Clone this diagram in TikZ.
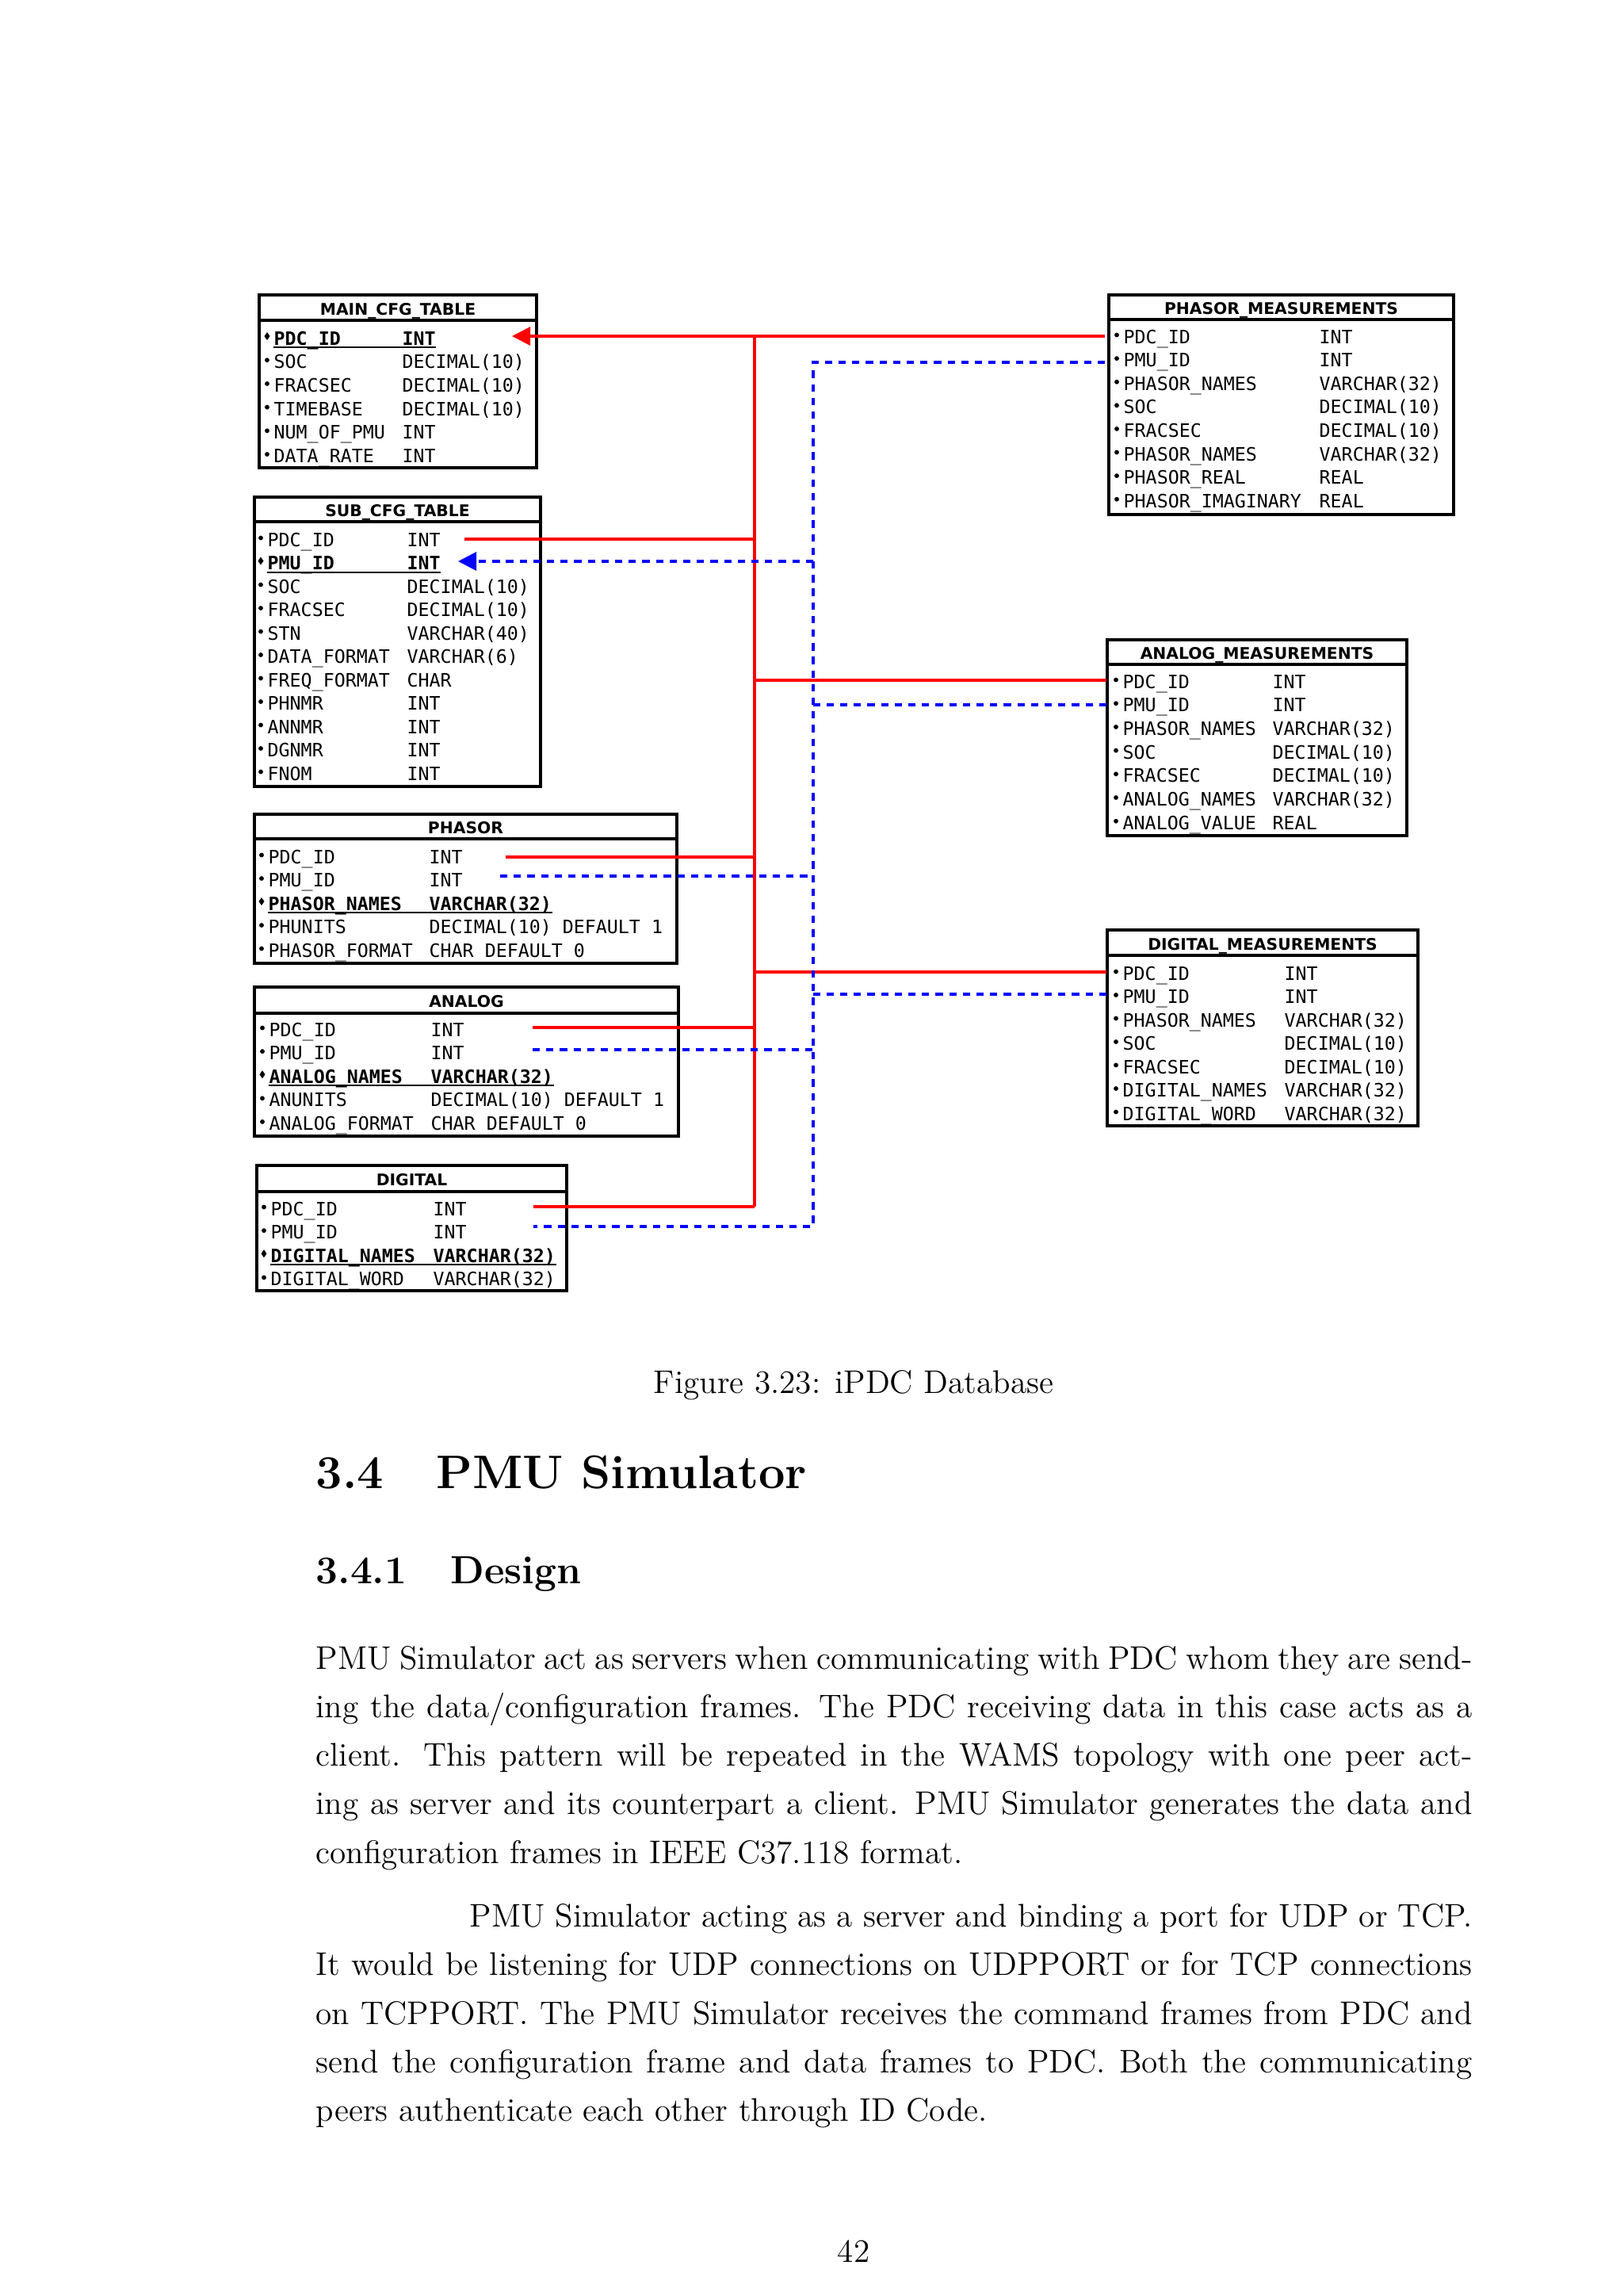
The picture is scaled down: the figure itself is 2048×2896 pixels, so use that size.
\documentclass[tikz,border=0pt]{standalone}
\usepackage{fontspec}
\newfontfamily\monof{DejaVu Sans Mono}
\newfontfamily\hdrf{DejaVu Sans}
\usetikzlibrary{arrows.meta,fit,calc}

\tikzset{
  tbl/.style={draw=black, line width=1.16pt, inner sep=0pt},
  divider/.style={line width=1.16pt},
  hdr/.style={anchor=base, inner sep=0pt, font=\hdrf\bfseries\fontsize{5.9}{7}\selectfont},
  fld/.style={anchor=base west, inner sep=0pt, font=\monof\fontsize{6.77}{8}\selectfont},
  keyfld/.style={anchor=base west, inner sep=0pt, font=\monof\bfseries\fontsize{6.77}{8}\selectfont},
  uline/.style={line width=0.58pt},
  rline/.style={draw=red, line width=0.9pt},
  bline/.style={draw=blue, line width=0.9pt, dash pattern=on 2.7pt off 2.3pt},
  arrowtip/.style={-{Triangle[length=6.7pt,width=6.7pt]}},
  bodytext/.style={anchor=base west, inner sep=0pt, font=\fontsize{12}{14.5}\selectfont},
  centertext/.style={anchor=base, inner sep=0pt, font=\fontsize{12}{14.5}\selectfont},
}

\newcommand\dbtable[7]{% id title L R T H B
  \node[tbl, fit={(#3,#5) (#4,#7)}] (#1) {};
  \draw[divider] (#3,#6) -- (#4,#6);
  \node[hdr] (#1-title) at ({(#3+#4)/2},{(#5+#6)/2+9}) {#2};
}

\newcommand\dbrows[6]{% id nx tx y0 dy list
  \foreach \n/\t/\k [count=\i] in {#6} {%
    \pgfmathsetmacro\yy{#4+(\i-1)*#5}%
    \ifnum\k=1
      \fill ({#2-11.5},{\yy-11}) -- ({#2-8},{\yy-16}) -- ({#2-4.5},{\yy-11}) -- ({#2-8},{\yy-6}) -- cycle;
      \node[keyfld] (#1-n\i) at (#2,\yy) {\n};
      \node[keyfld] (#1-t\i) at (#3,\yy) {\t};
      \draw[uline] ([yshift=-0.9pt]#1-n\i.base west) -- ([yshift=-0.9pt]#1-t\i.base east);
    \else
      \fill ({#2-8},{\yy-10.5}) circle[radius=0.85pt];
      \node[fld] (#1-n\i) at (#2,\yy) {\n};
      \node[fld] (#1-t\i) at (#3,\yy) {\t};
    \fi
  }%
}

\begin{document}
\begin{tikzpicture}[x=0.29077pt, y=-0.29077pt]
\useasboundingbox (0,0) rectangle (2048,2896);
\fill[white] (0,0) rectangle (2048,2896);

% ---------- tables ----------
\dbtable{main}{MAIN\_CFG\_TABLE}{327}{677}{372}{404}{590}
\dbrows{main}{345}{507}{435}{29.7}{PDC\_ID/INT\ /1, SOC/DECIMAL(10)/0, FRACSEC/DECIMAL(10)/0, TIMEBASE/DECIMAL(10)/0, NUM\_OF\_PMU/INT/0, DATA\_RATE/INT/0}

\dbtable{sub}{SUB\_CFG\_TABLE}{321}{682}{627}{658}{992}
\dbrows{sub}{337}{513}{689}{29.5}{PDC\_ID/INT/0, PMU\_ID/INT/1, SOC/DECIMAL(10)/0, FRACSEC/DECIMAL(10)/0, STN/VARCHAR(40)/0, DATA\_FORMAT/VARCHAR(6)/0, FREQ\_FORMAT/CHAR/0, PHNMR/INT/0, ANNMR/INT/0, DGNMR/INT/0, FNOM/INT/0}

\dbtable{ph}{PHASOR}{321}{854}{1027}{1058}{1215}
\dbrows{ph}{338}{541}{1089}{29.5}{PDC\_ID/INT/0, PMU\_ID/INT/0, PHASOR\_NAMES/VARCHAR(32)/1, PHUNITS/DECIMAL(10) DEFAULT 1/0, PHASOR\_FORMAT/CHAR DEFAULT 0/0}

\dbtable{an}{ANALOG}{321}{856}{1245}{1278}{1433}
\dbrows{an}{339}{543}{1307}{29.6}{PDC\_ID/INT/0, PMU\_ID/INT/0, ANALOG\_NAMES/VARCHAR(32)/1, ANUNITS/DECIMAL(10) DEFAULT 1/0, ANALOG\_FORMAT/CHAR DEFAULT 0/0}

\dbtable{dg}{DIGITAL}{324}{715}{1470}{1503}{1628}
\dbrows{dg}{341}{546}{1533}{29.6}{PDC\_ID/INT/0, PMU\_ID/INT/0, DIGITAL\_NAMES/VARCHAR(32)/1, DIGITAL\_WORD/VARCHAR(32)/0}

\dbtable{pm}{PHASOR\_MEASUREMENTS}{1399}{1834}{372}{403}{649}
\dbrows{pm}{1417}{1664}{433}{29.6}{PDC\_ID/INT/0, PMU\_ID/INT/0, PHASOR\_NAMES/VARCHAR(32)/0, SOC/DECIMAL(10)/0, FRACSEC/DECIMAL(10)/0, PHASOR\_NAMES/VARCHAR(32)/0, PHASOR\_REAL/REAL/0, PHASOR\_IMAGINARY/REAL/0}

\dbtable{am}{ANALOG\_MEASUREMENTS}{1397}{1775}{807}{838}{1054}
\dbrows{am}{1416}{1605}{868}{29.7}{PDC\_ID/INT/0, PMU\_ID/INT/0, PHASOR\_NAMES/VARCHAR(32)/0, SOC/DECIMAL(10)/0, FRACSEC/DECIMAL(10)/0, ANALOG\_NAMES/VARCHAR(32)/0, ANALOG\_VALUE/REAL/0}

\dbtable{dm}{DIGITAL\_MEASUREMENTS}{1397}{1789}{1173}{1205}{1420}
\dbrows{dm}{1416}{1620}{1236}{29.5}{PDC\_ID/INT/0, PMU\_ID/INT/0, PHASOR\_NAMES/VARCHAR(32)/0, SOC/DECIMAL(10)/0, FRACSEC/DECIMAL(10)/0, DIGITAL\_NAMES/VARCHAR(32)/0, DIGITAL\_WORD/VARCHAR(32)/0}

% ---------- red PDC_ID connectors ----------
\coordinate (rt) at (952,424);
\coordinate (rb) at (952,1522);
\coordinate (pmP) at (1394,424);
\coordinate (mainP) at (646,424);
\coordinate (subP) at (586,680);
\coordinate (amP) at (1396,858);
\coordinate (phP) at (638,1081);
\coordinate (dmP) at (1396,1226);
\coordinate (anP) at (672,1296);
\coordinate (dgP) at (673,1522);
\draw[rline] (rt) -- (rb);
\draw[rline] (pmP) -- (rt);
\draw[rline,arrowtip] (rt) -- (mainP);
\draw[rline] (subP) -- (subP -| rt);
\draw[rline] (amP -| rt) -- (amP);
\draw[rline] (phP) -- (phP -| rt);
\draw[rline] (dmP -| rt) -- (dmP);
\draw[rline] (anP) -- (anP -| rt);
\draw[rline] (dgP) -- (rb);

% ---------- blue PMU_ID connectors ----------
\coordinate (bt) at (1026,457);
\coordinate (bb) at (1026,1547);
\coordinate (pmM) at (1394,457);
\coordinate (subM) at (578,708);
\coordinate (amM) at (1396,889);
\coordinate (amJ) at (1019,889);
\coordinate (phM) at (631,1105);
\coordinate (dmM) at (1396,1254);
\coordinate (anM) at (672,1324);
\coordinate (dgM) at (673,1547);
\draw[bline] (pmM) -- (bt) -- (bb) -- (dgM);
\draw[bline,arrowtip] (subM -| bt) -- (subM);
\draw[bline] (amM) -- (amJ);
\draw[bline] (phM) -- (phM -| bt);
\draw[bline] (dmM) -- (dmM -| bt);
\draw[bline] (anM) -- (anM -| bt);

% ---------- caption and text ----------
\node[centertext] (caption) at (1077,1757) {Figure 3.23: iPDC Database};

\node[anchor=base west, inner sep=0pt, font=\fontsize{17.28}{22}\selectfont\bfseries] (secnum) at (398,1877) {3.4};
\node[anchor=base west, inner sep=0pt, font=\fontsize{17.28}{22}\selectfont\bfseries] (sectitle) at (550,1877) {PMU Simulator};
\node[anchor=base west, inner sep=0pt, font=\fontsize{14.4}{18}\selectfont\bfseries] (subnum) at (398,1997) {3.4.1};
\node[anchor=base west, inner sep=0pt, font=\fontsize{14.4}{18}\selectfont\bfseries] (subtitle) at (568,1997) {Design};

\node[bodytext] (p1a) at (398,2105) {\makebox[424.2pt][s]{PMU Simulator act as servers when communicating with PDC whom they are send-}};
\node[bodytext] (p1b) at (398,2166) {\makebox[424.2pt][s]{ing the data/configuration frames.  The PDC receiving data in this case acts as a}};
\node[bodytext] (p1c) at (398,2227) {\makebox[424.2pt][s]{client.  This pattern will be repeated in the WAMS topology with one peer act-}};
\node[bodytext] (p1d) at (398,2288) {\makebox[424.2pt][s]{ing as server and its counterpart a client. PMU Simulator generates the data and}};
\node[bodytext] (p1e) at (398,2350) {configuration frames in IEEE C37.118 format.};

\node[bodytext] (p2a) at (592,2430) {\makebox[367.8pt][s]{PMU Simulator acting as a server and binding a port for UDP or TCP.}};
\node[bodytext] (p2b) at (398,2491) {\makebox[424.2pt][s]{It would be listening for UDP connections on UDPPORT or for TCP connections}};
\node[bodytext] (p2c) at (398,2553) {\makebox[424.2pt][s]{on TCPPORT. The PMU Simulator receives the command frames from PDC and}};
\node[bodytext] (p2d) at (398,2614) {\makebox[424.2pt][s]{send the configuration frame and data frames to PDC. Both the communicating}};
\node[bodytext] (p2e) at (398,2675) {peers authenticate each other through ID Code.};

\node[centertext] (pageno) at (1077,2853) {42};
\end{tikzpicture}
\end{document}
